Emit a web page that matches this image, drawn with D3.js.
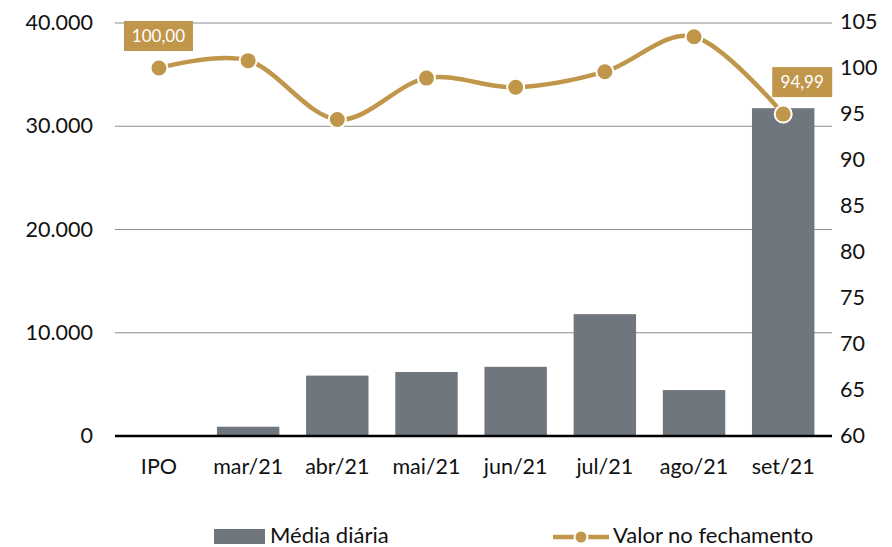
<!DOCTYPE html>
<html>
<head>
<meta charset="utf-8">
<script src="https://d3js.org/d3.v7.min.js"></script>
<style>
  body { margin: 0; background: #fff; font-family: Lato, "Open Sans", sans-serif; }
  svg text { fill: #111; }
</style>
</head>
<body>
<svg id="chart" width="892" height="547"></svg>
<script>
  var categories = ["IPO", "mar/21", "abr/21", "mai/21", "jun/21", "jul/21", "ago/21", "set/21"];
  var mediaDiaria = [0, 900, 5850, 6200, 6700, 11800, 4450, 31750];
  var valorFechamento = [100.00, 100.8, 94.4, 98.9, 97.9, 99.6, 103.4, 94.99];
  var leftTicks = [0, 10000, 20000, 30000, 40000];
  var rightTicks = [60, 65, 70, 75, 80, 85, 90, 95, 100, 105];
  var labelled = [0, 7];

  var gold = "#c0964b", gray = "#6f767d";
  var svg = d3.select("#chart");
  var plotLeft = 115, plotRight = 832, plotTop = 23, plotBottom = 436;
  var fs = 21.5;

  var x = d3.scaleBand().domain(categories).range([plotLeft, plotRight])
    .paddingInner(0.3).paddingOuter(0.17).align(0.42);
  var y = d3.scaleLinear().domain([0, 40000]).range([plotBottom, plotTop]);
  var y2 = d3.scaleLinear().domain([60, 105]).range([plotBottom, plotTop - 1]);

  var fmt = function (d) { return d3.format(",")(d).replace(/,/g, "."); };

  // gridlines
  svg.append("g").selectAll("line")
    .data(leftTicks.filter(function (d) { return d > 0; }))
    .enter().append("line")
    .attr("x1", plotLeft).attr("x2", plotRight)
    .attr("y1", function (d) { return y(d); }).attr("y2", function (d) { return y(d); })
    .attr("stroke", "#8c8c8c").attr("stroke-width", 1.2);

  // left axis labels
  svg.append("g").selectAll("text")
    .data(leftTicks).enter().append("text")
    .attr("x", 93).attr("y", function (d) { return y(d) + 7; })
    .attr("text-anchor", "end").attr("font-size", fs)
    .text(fmt);

  // right axis labels
  svg.append("g").selectAll("text")
    .data(rightTicks).enter().append("text")
    .attr("x", 840).attr("y", function (d) { return y2(d) + 7; })
    .attr("font-size", fs)
    .text(function (d) { return d; });

  // bars
  svg.append("g").selectAll("rect")
    .data(mediaDiaria).enter().append("rect")
    .attr("x", function (d, i) { return x(categories[i]); })
    .attr("width", x.bandwidth())
    .attr("y", function (d) { return y(d); })
    .attr("height", function (d) { return plotBottom - y(d); })
    .attr("fill", gray);

  // baseline
  svg.append("line")
    .attr("x1", plotLeft).attr("x2", plotRight).attr("y1", plotBottom).attr("y2", plotBottom)
    .attr("stroke", "#000").attr("stroke-width", 2.5);

  // category labels
  svg.append("g").selectAll("text")
    .data(categories).enter().append("text")
    .attr("x", function (d) { return x(d) + x.bandwidth() / 2; })
    .attr("y", 474).attr("text-anchor", "middle").attr("font-size", fs)
    .text(function (d) { return d; });

  // line
  var line = d3.line()
    .x(function (d, i) { return x(categories[i]) + x.bandwidth() / 2; })
    .y(function (d) { return y2(d); })
    .curve(d3.curveCardinal.tension(0));

  svg.append("path").datum(valorFechamento)
    .attr("d", line).attr("fill", "none")
    .attr("stroke", gold).attr("stroke-width", 4.5);

  svg.append("g").selectAll("circle")
    .data(valorFechamento).enter().append("circle")
    .attr("cx", function (d, i) { return x(categories[i]) + x.bandwidth() / 2; })
    .attr("cy", function (d) { return y2(d); })
    .attr("r", 8.5).attr("fill", gold)
    .attr("stroke", "#fff").attr("stroke-width", 2);

  // data labels
  var lab = svg.append("g").selectAll("g")
    .data(labelled).enter().append("g")
    .attr("transform", function (i) {
      var cx = x(categories[i]) + x.bandwidth() / 2;
      return "translate(" + cx + "," + (y2(valorFechamento[i]) - 32) + ")";
    });
  lab.append("rect")
    .attr("x", function (i) { return i === 0 ? -35 : -11; })
    .attr("y", -15).attr("height", 30)
    .attr("width", function (i) { return i === 0 ? 69 : 60; })
    .attr("fill", gold);
  lab.append("text")
    .attr("x", function (i) { return i === 0 ? -0.5 : 19; })
    .attr("y", 6).attr("text-anchor", "middle").attr("font-size", 17)
    .style("fill", "#fff")
    .text(function (i) { return valorFechamento[i].toFixed(2).replace(".", ","); });

  // legend
  var lg = svg.append("g");
  lg.append("rect").attr("x", 214).attr("y", 529).attr("width", 51).attr("height", 15).attr("fill", gray);
  lg.append("text").attr("x", 270).attr("y", 543).attr("font-size", 22).text("Média diária");
  lg.append("line").attr("x1", 553).attr("x2", 609).attr("y1", 537).attr("y2", 537)
    .attr("stroke", gold).attr("stroke-width", 4.5);
  lg.append("circle").attr("cx", 581).attr("cy", 537).attr("r", 6.5)
    .attr("fill", gold).attr("stroke", "#fff").attr("stroke-width", 2);
  lg.append("text").attr("x", 613).attr("y", 543).attr("font-size", 22).text("Valor no fechamento");
</script>
</body>
</html>
